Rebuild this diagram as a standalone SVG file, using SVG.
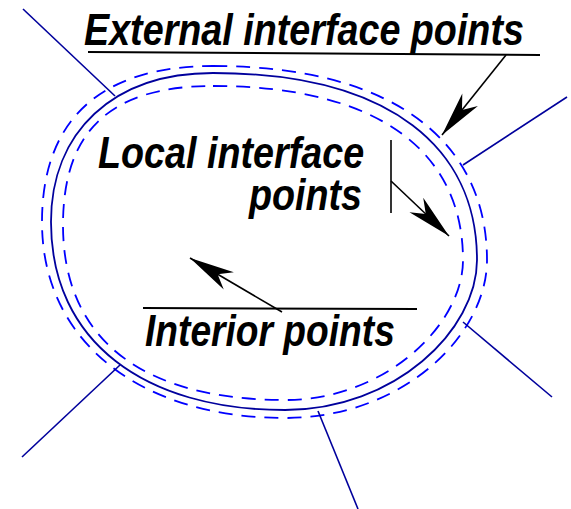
<svg xmlns="http://www.w3.org/2000/svg" width="571" height="509" viewBox="0 0 571 509">
  <style>
    .solid { fill: none; stroke: #00009c; stroke-width: 1.8; }
    .dash { fill: none; stroke: #0000ff; stroke-width: 1.8; stroke-dasharray: 14 9; }
    .ray { stroke: #00009c; stroke-width: 1.6; fill: none; }
    .lead { stroke: #000; stroke-width: 1.6; fill: none; }
    .bar { stroke: #000; stroke-width: 2; fill: none; }
    .lbl { font-family: "Liberation Sans", Arial, sans-serif; font-weight: bold; font-style: italic; font-size: 45px; fill: #000; }
  </style>
  <defs>
    <marker id="ah" markerUnits="userSpaceOnUse" markerWidth="52" markerHeight="24" viewBox="-47 -12 49 24" refX="0" refY="0" orient="auto">
      <path d="M0,0 L-45,-10 L-32,0 L-45,10 Z" fill="#000"/>
    </marker>
  </defs>

  <g id="region">
    <path class="dash" d="M213,66 C398,66 487,145 487,260 C487,335 403,418 285,418 C143,418 42,344 42,222 C42,122 98,66 213,66 Z"/>
    <path class="solid" d="M213,73 C393,73 477,150 477,260 C477,330 395,410 285,410 C145,410 51,342 51,222 C51,132 113,73 213,73 Z"/>
    <path class="dash" d="M213,86 C383,86 463,155 463,260 C463,325 385,400 285,400 C147,400 63,343 63,225 C63,133 108,86 213,86 Z"/>
  </g>

  <g id="label-external">
    <line class="bar" x1="88" y1="52" x2="540" y2="55"/>
    <text class="lbl" transform="translate(84,45) scale(0.838,1)" x="0" y="0">External interface points</text>
  </g>

  <g id="label-local">
    <line class="lead" x1="391" y1="140" x2="391" y2="213"/>
    <text class="lbl" transform="scale(0.838,1)"><tspan x="117" y="168">Local interface</tspan><tspan x="297" y="210">points</tspan></text>
  </g>

  <g id="label-interior">
    <line class="bar" x1="143" y1="308" x2="417" y2="309"/>
    <text class="lbl" transform="translate(145,346) scale(0.826,1)" x="0" y="0">Interior points</text>
  </g>

  <g id="connectors">
    <line class="lead" x1="506" y1="55" x2="442" y2="135" marker-end="url(#ah)"/>
    <line class="lead" x1="391" y1="181" x2="449" y2="236" marker-end="url(#ah)"/>
    <line class="lead" x1="282" y1="312" x2="190" y2="258" marker-end="url(#ah)"/>
    <line class="ray" x1="23" y1="9" x2="115" y2="96"/>
    <line class="ray" x1="463" y1="165" x2="567" y2="97"/>
    <line class="ray" x1="463" y1="322" x2="552" y2="397"/>
    <line class="ray" x1="318" y1="411" x2="358" y2="509"/>
    <line class="ray" x1="120" y1="365" x2="22" y2="457"/>
  </g>
</svg>
